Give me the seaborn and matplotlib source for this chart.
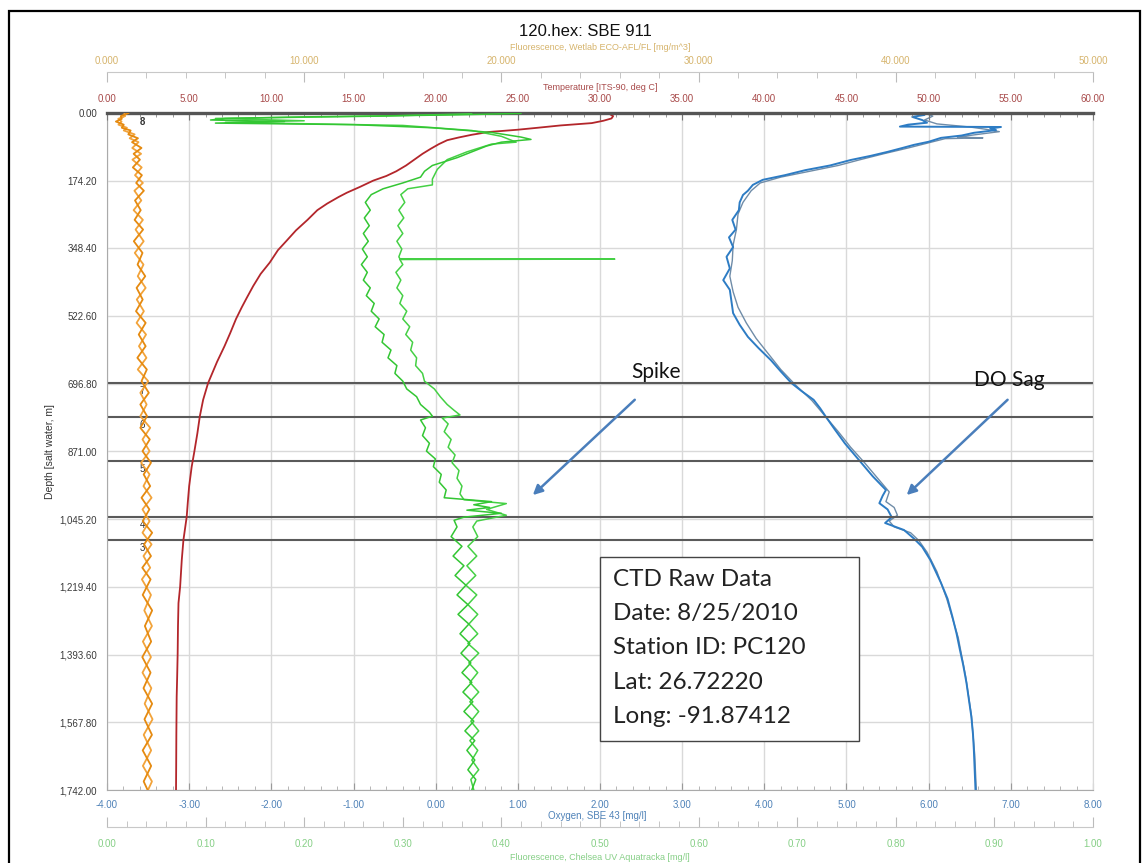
import numpy as np
import pandas as pd
import matplotlib
matplotlib.use("Agg")
import matplotlib.pyplot as plt
import seaborn as sns
from matplotlib.patches import Rectangle
from matplotlib.ticker import FuncFormatter, MultipleLocator

sns.set_style("white")
plt.rcParams['font.family'] = ['Liberation Sans', 'DejaVu Sans']

# ---------------- data ----------------
depth_ticks = [0, 174.2, 348.4, 522.6, 696.8, 871.0, 1045.2, 1219.4, 1393.6, 1567.8, 1742.0]

# Fluorescence, Wetlab ECO-AFL/FL (top outer axis, 0-50)
fl_depth = [0, 8, 15, 22, 30, 38, 45, 55, 65, 75, 90, 105, 120, 140, 160, 180, 200, 225, 250, 275,
            300, 330, 360, 390, 420, 450, 480, 510, 540, 570, 600, 630, 660, 690, 720, 750, 780, 810, 840, 870,
            900, 930, 960, 990, 1020, 1050, 1080, 1110, 1140, 1170, 1200, 1240, 1280, 1320, 1360, 1400, 1440, 1480, 1520, 1560,
            1600, 1640, 1680, 1720, 1742]
fl_down = [1.10, 0.70, 0.75, 0.45, 0.85, 0.75, 1.20, 1.08, 1.57, 1.27,
           1.75, 1.35, 1.67, 1.31, 1.77, 1.48, 1.87, 1.42, 1.71, 1.40,
           1.83, 1.36, 1.80, 1.55, 1.94, 1.50, 1.81, 1.47, 1.96, 1.61,
           1.96, 1.54, 2.02, 1.75, 2.12, 1.69, 2.03, 1.69, 2.17, 1.80,
           2.23, 1.86, 2.19, 1.75, 2.15, 1.81, 2.29, 1.88, 2.23, 1.79,
           2.21, 1.81, 2.29, 1.92, 2.24, 1.79, 2.21, 1.85, 2.29, 1.90,
           2.28, 1.81, 2.24, 1.86, 2.06]
fl_up = [0.88, 0.92, 0.57, 0.74, 0.58, 1.01, 0.85, 1.40, 1.15, 1.60,
         1.28, 1.73, 1.29, 1.76, 1.42, 1.82, 1.39, 1.74, 1.35, 1.82,
         1.45, 1.86, 1.41, 1.85, 1.56, 1.96, 1.51, 1.87, 1.50, 1.98,
         1.62, 2.00, 1.56, 2.09, 1.69, 2.01, 1.69, 2.19, 1.80, 2.16,
         1.73, 2.16, 1.85, 2.26, 1.80, 2.16, 1.80, 2.26, 1.85, 2.19,
         1.77, 2.23, 1.89, 2.28, 1.82, 2.23, 1.80, 2.25, 1.91, 2.31,
         1.86, 2.24, 1.82, 2.28, 2.08]

# Temperature [ITS-90, deg C] (top axis, 0-60)
t_depth = [0, 3, 8, 14, 20, 26, 32, 38, 43, 49, 56, 63, 70, 80, 92, 105, 120, 135, 150, 162,
           174, 190, 205, 216, 233, 250, 275, 302, 330, 353, 385, 414, 445, 476, 500, 530, 566, 600, 640, 695,
           738, 780, 824, 870, 911, 960, 1000, 1039, 1099, 1150, 1219, 1261, 1320, 1390, 1450, 1502, 1600, 1680, 1742]
temperature = [30.3, 30.6, 30.8, 30.7, 30.2, 29.5, 27.6, 26.2, 25.0, 23.2,
               22.2, 21.4, 20.7, 20.2, 19.7, 19.2, 18.7, 18.2, 17.6, 17.0,
               16.2, 15.4, 14.6, 14.1, 13.4, 12.8, 12.2, 11.5, 10.9, 10.4,
               9.9, 9.35, 8.9, 8.5, 8.2, 7.85, 7.5, 7.15, 6.7, 6.15,
               5.85, 5.65, 5.5, 5.32, 5.15, 5.0, 4.92, 4.85, 4.65, 4.55,
               4.45, 4.35, 4.32, 4.3, 4.27, 4.24, 4.22, 4.21, 4.2]

# Oxygen, SBE 43 [mg/l] (bottom axis, -4 to 8)
ox_depth_down = [0, 5, 10, 18, 25, 30, 35, 36, 40, 44, 51, 58, 64, 74, 82, 90, 100, 110, 121, 135,
                 147, 160, 172, 185, 200, 211, 230, 250, 275, 300, 320, 345, 370, 400, 430, 455, 485, 515, 545, 576,
                 605, 636, 665, 695, 715, 738, 760, 782, 815, 850, 875, 900, 935, 970, 985, 1004, 1020, 1040, 1055, 1073,
                 1095, 1116, 1150, 1209, 1250, 1297, 1340, 1381, 1420, 1466, 1510, 1554, 1600, 1639, 1690, 1742]
ox_down = [5.85, 5.95, 5.80, 5.92, 5.98, 5.75, 5.65, 6.88, 6.75, 6.82,
           6.55, 6.40, 6.15, 6.00, 5.82, 5.68, 5.50, 5.30, 5.05, 4.80,
           4.50, 4.25, 3.98, 3.86, 3.80, 3.74, 3.70, 3.69, 3.61, 3.65,
           3.57, 3.62, 3.54, 3.58, 3.50, 3.58, 3.60, 3.62, 3.70, 3.80,
           3.93, 4.08, 4.20, 4.33, 4.45, 4.60, 4.68, 4.75, 4.86, 4.98,
           5.08, 5.18, 5.32, 5.48, 5.44, 5.40, 5.50, 5.55, 5.47, 5.70,
           5.82, 5.92, 6.02, 6.15, 6.23, 6.29, 6.34, 6.38, 6.42, 6.46,
           6.49, 6.52, 6.54, 6.55, 6.56, 6.57]
ox_depth_up = [0, 8, 18, 28, 36, 42, 48, 55, 62, 64, 66, 74, 90, 105, 121, 135, 150, 165, 180, 200,
               230, 260, 300, 340, 380, 420, 460, 500, 540, 580, 620, 660, 700, 740, 780, 820, 860, 900, 940, 975,
               1000, 1015, 1035, 1050, 1065, 1080, 1100, 1130, 1180, 1250, 1350, 1450, 1550, 1650, 1742]
ox_up = [5.95, 6.05, 5.95, 6.10, 6.50, 6.70, 6.86, 6.60, 6.35, 6.66,
         6.20, 6.05, 5.75, 5.45, 5.15, 4.90, 4.55, 4.20, 3.95, 3.84,
         3.74, 3.68, 3.66, 3.62, 3.61, 3.58, 3.62, 3.68, 3.78, 3.90,
         4.05, 4.20, 4.38, 4.58, 4.74, 4.90, 5.05, 5.22, 5.38, 5.52,
         5.48, 5.58, 5.62, 5.52, 5.58, 5.78, 5.88, 5.98, 6.10, 6.22,
         6.36, 6.45, 6.52, 6.56, 6.58]

# Fluorescence, Chelsea UV Aquatracka [mg/l] (bottom outer axis, 0-1): (depth, value)
ch_down_pts = [
    (1, 0.42), (5, 0.35), (10, 0.20), (14, 0.12), (18, 0.105), (22, 0.18), (26, 0.11), (30, 0.25),
    (38, 0.33), (50, 0.39), (62, 0.42), (68, 0.43), (75, 0.40), (85, 0.385), (100, 0.37), (115, 0.355),
    (135, 0.33), (150, 0.322), (165, 0.318), (180, 0.30), (195, 0.28),
    (210, 0.268), (230, 0.262), (250, 0.267), (270, 0.261), (290, 0.266), (310, 0.260), (330, 0.265),
    (350, 0.259), (370, 0.264), (390, 0.258), (410, 0.264), (430, 0.260), (450, 0.267), (470, 0.263),
    (490, 0.271), (510, 0.268), (530, 0.276), (550, 0.272), (570, 0.281), (590, 0.279), (610, 0.288),
    (630, 0.285), (650, 0.294), (670, 0.292), (690, 0.300), (710, 0.304), (730, 0.314), (750, 0.318),
    (770, 0.327), (780, 0.330), (790, 0.318), (810, 0.323), (830, 0.320), (850, 0.327), (870, 0.324),
    (890, 0.333), (910, 0.331), (930, 0.339), (950, 0.337), (970, 0.344), (990, 0.342),
    (1000, 0.39), (1008, 0.372), (1015, 0.388), (1022, 0.365), (1030, 0.40), (1040, 0.362), (1048, 0.352),
    (1065, 0.355), (1090, 0.349), (1115, 0.360), (1140, 0.351), (1165, 0.362), (1190, 0.353), (1215, 0.364),
    (1240, 0.355), (1265, 0.366), (1290, 0.356), (1315, 0.367), (1340, 0.358), (1365, 0.368), (1390, 0.359),
    (1415, 0.369), (1440, 0.360), (1465, 0.370), (1490, 0.361), (1515, 0.371), (1540, 0.362), (1565, 0.372),
    (1590, 0.363), (1615, 0.373), (1640, 0.365), (1665, 0.373), (1690, 0.366), (1715, 0.374), (1742, 0.370)]
ch_up_pts = [
    (2, 0.37), (8, 0.28), (14, 0.11), (20, 0.20), (24, 0.12), (32, 0.30), (45, 0.37), (60, 0.40),
    (75, 0.415), (80, 0.39), (100, 0.365), (120, 0.345), (145, 0.335), (170, 0.33), (185, 0.33), (195, 0.305),
    (210, 0.298), (230, 0.302), (250, 0.296), (270, 0.301), (290, 0.295), (310, 0.300), (330, 0.294),
    (350, 0.299), (370, 0.296), (375, 0.297), (376, 0.515), (377, 0.297), (390, 0.300), (410, 0.293),
    (430, 0.298), (450, 0.294), (470, 0.300), (490, 0.297), (510, 0.304), (530, 0.300), (550, 0.307),
    (570, 0.303), (590, 0.310), (610, 0.308), (630, 0.314), (650, 0.313), (670, 0.320), (690, 0.322),
    (710, 0.332), (730, 0.338), (750, 0.345), (765, 0.352), (777, 0.358), (785, 0.340), (800, 0.346),
    (820, 0.342), (840, 0.349), (860, 0.346), (880, 0.353), (900, 0.350), (920, 0.357), (940, 0.355),
    (960, 0.360), (980, 0.358), (995, 0.362),
    (1005, 0.405), (1020, 0.385), (1035, 0.405), (1050, 0.375), (1065, 0.371),
    (1090, 0.376), (1115, 0.366), (1140, 0.375), (1165, 0.365), (1190, 0.374), (1215, 0.364), (1240, 0.375),
    (1265, 0.366), (1290, 0.376), (1315, 0.367), (1340, 0.376), (1365, 0.366), (1390, 0.377), (1415, 0.367),
    (1440, 0.376), (1465, 0.368), (1490, 0.377), (1515, 0.368), (1540, 0.377), (1565, 0.369), (1590, 0.377),
    (1615, 0.368), (1640, 0.376), (1665, 0.370), (1690, 0.377), (1715, 0.369), (1742, 0.372)]

# Bottle fire markers
bottle_depths = [695, 782, 895, 1039, 1099]
bottle_labels = ["7", "6", "5", "4", "3"]
top_bottle_label = "8"

info_lines = ["CTD Raw Data", "Date: 8/25/2010", "Station ID: PC120", "Lat: 26.72220", "Long: -91.87412"]

ch_down_df = pd.DataFrame(ch_down_pts, columns=["depth", "value"])
ch_up_df = pd.DataFrame(ch_up_pts, columns=["depth", "value"])

# ---------------- figure ----------------
W, H = 1144, 863
fig = plt.figure(figsize=(W / 100, H / 100), dpi=100)
fig.patch.set_facecolor('white')
ax = fig.add_axes([107 / W, 1 - 790 / H, 986 / W, 677 / H])
ax_t = ax.twiny()
ax_f = ax.twiny()
ax_c = ax.twiny()

ox_col = '#4f82b8'
t_col = '#a84a4a'
f_col = '#d6b46c'
c_col = '#86cf86'

# oxygen (main axes)
sns.lineplot(x=ox_up, y=ox_depth_up, sort=False, estimator=None, ax=ax, color='#6f8ca8', linewidth=1.0)
sns.lineplot(x=ox_down, y=ox_depth_down, sort=False, estimator=None, ax=ax, color='#2d7cc4', linewidth=1.4)
# temperature
sns.lineplot(x=temperature, y=t_depth, sort=False, estimator=None, ax=ax_t, color='#b3262b', linewidth=1.3)
# wetlab fluorescence
sns.lineplot(x=fl_up, y=fl_depth, sort=False, estimator=None, ax=ax_f, color='#f2a33a', linewidth=1.3)
sns.lineplot(x=fl_down, y=fl_depth, sort=False, estimator=None, ax=ax_f, color='#e58a10', linewidth=1.3)
# chelsea fluorescence
sns.lineplot(data=ch_up_df, x="value", y="depth", sort=False, estimator=None, ax=ax_c,
             color='#45d045', linewidth=1.1)
sns.lineplot(data=ch_down_df, x="value", y="depth", sort=False, estimator=None, ax=ax_c,
             color='#33c633', linewidth=1.1)

for a in (ax, ax_t, ax_f, ax_c):
    a.set_xlabel("")
    a.set_ylabel("")

# limits
ax.set_xlim(-4, 8)
ax_t.set_xlim(0, 60)
ax_f.set_xlim(0, 50)
ax_c.set_xlim(0, 1.0)
ax.set_ylim(1742, 0)

# grid
ax.set_yticks(depth_ticks)
ax.xaxis.set_major_locator(MultipleLocator(1))
ax.xaxis.set_minor_locator(MultipleLocator(0.2))
ax.yaxis.set_minor_locator(MultipleLocator(34.84))
ax.grid(True, which='major', color='#d9d9d9', linewidth=1.0)
ax.set_axisbelow(True)
for a in (ax_t, ax_f, ax_c):
    a.grid(False)

ax.xaxis.set_major_formatter(FuncFormatter(lambda v, p: f"{v:.2f}"))
ax.yaxis.set_major_formatter(FuncFormatter(lambda v, p: f"{v:,.2f}"))
ax.tick_params(axis='x', which='major', direction='in', length=5, color='#999999',
               labelsize=7, labelcolor=ox_col, pad=7)
ax.tick_params(axis='x', which='minor', direction='in', length=3, color='#aaaaaa')
ax.tick_params(axis='y', which='major', direction='out', length=3, color='#999999',
               labelsize=7, labelcolor='#3a3a3a', pad=4)
ax.tick_params(axis='y', which='minor', direction='in', length=3, color='#bbbbbb')
ax.spines['top'].set_visible(False)
ax.spines['left'].set_color('#aaaaaa')
ax.spines['bottom'].set_color('#aaaaaa')
ax.spines['right'].set_color('#d9d9d9')

# temperature axis
ax_t.xaxis.set_major_locator(MultipleLocator(5))
ax_t.xaxis.set_minor_locator(MultipleLocator(1))
ax_t.xaxis.set_major_formatter(FuncFormatter(lambda v, p: f"{v:.2f}"))
ax_t.tick_params(axis='x', which='major', direction='in', length=5, color='#777777',
                 labelsize=7, labelcolor=t_col, pad=6.5)
ax_t.tick_params(axis='x', which='minor', direction='in', length=3, color='#888888')
for s in ('left', 'right', 'bottom'):
    ax_t.spines[s].set_visible(False)
ax_t.spines['top'].set_color('#555555')
ax_t.spines['top'].set_linewidth(2.4)

# wetlab fluorescence axis
ax_f.spines['top'].set_position(('outward', 29.5))
ax_f.xaxis.set_major_locator(MultipleLocator(10))
ax_f.xaxis.set_minor_locator(MultipleLocator(2))
ax_f.xaxis.set_major_formatter(FuncFormatter(lambda v, p: f"{v:.3f}"))
ax_f.tick_params(axis='x', which='major', direction='in', length=7, color='#bbbbbb',
                 labelsize=7, labelcolor=f_col, pad=4)
ax_f.tick_params(axis='x', which='minor', direction='in', length=4, color='#bbbbbb')
for s in ('left', 'right', 'bottom'):
    ax_f.spines[s].set_visible(False)
ax_f.spines['top'].set_color('#c8c8c8')

# chelsea fluorescence axis
ax_c.xaxis.set_ticks_position('bottom')
ax_c.xaxis.set_label_position('bottom')
ax_c.spines['bottom'].set_position(('outward', 26.6))
ax_c.xaxis.set_major_locator(MultipleLocator(0.1))
ax_c.xaxis.set_minor_locator(MultipleLocator(0.02))
ax_c.xaxis.set_major_formatter(FuncFormatter(lambda v, p: f"{v:.2f}"))
ax_c.tick_params(axis='x', which='major', direction='in', length=7, color='#bbbbbb',
                 labelsize=7, labelcolor=c_col, pad=8.5)
ax_c.tick_params(axis='x', which='minor', direction='in', length=4, color='#bbbbbb')
for s in ('left', 'right', 'top'):
    ax_c.spines[s].set_visible(False)
ax_c.spines['bottom'].set_color('#c8c8c8')

# bottle lines
for d, lab in zip(bottle_depths, bottle_labels):
    ax.axhline(d, color='#5a5a5a', linewidth=1.5, zorder=2)
    ax.annotate(lab, xy=(-3.574, d), xytext=(0, -2), textcoords='offset points',
                ha='center', va='top', fontsize=7, color='#333333')
ax.annotate(top_bottle_label, xy=(-3.574, 0), xytext=(0, -3), textcoords='offset points',
            ha='center', va='top', fontsize=7, color='#333333', fontweight='bold')

# figure texts
def ftext(x, y, s, **kw):
    fig.text(x / W, 1 - y / H, s, ha='center', va='center', **kw)

ftext(585, 32, "120.hex: SBE 911", fontsize=12, color='#111111')
ftext(600, 48, "Fluorescence, Wetlab ECO-AFL/FL [mg/m^3]", fontsize=6.5, color=f_col)
ftext(600, 87, "Temperature [ITS-90, deg C]", fontsize=6.5, color=t_col)
ftext(597, 816, "Oxygen, SBE 43 [mg/l]", fontsize=7, color=ox_col)
ftext(600, 857, "Fluorescence, Chelsea UV Aquatracka [mg/l]", fontsize=6.5, color=c_col)
ftext(50, 451, "Depth [salt water, m]", fontsize=7.5, color='#333333', rotation=90)

# info box and annotations (drawn on the top-most axes, in oxygen/depth coordinates)
box = Rectangle((2.0, 1142), 3.148, 474, transform=ax.transData, facecolor='white',
                edgecolor='#444444', linewidth=1.0, clip_on=False, zorder=5)
ax_c.add_patch(box)
info_depths = [1201, 1287, 1376, 1466, 1554]
for s, d in zip(info_lines, info_depths):
    ax_c.text(2.156, d, s, transform=ax.transData, ha='left', va='center',
              fontsize=17.5, family=['Lato', 'DejaVu Sans'], color='#222222', zorder=6)

arrow_kw = dict(arrowstyle='-|>', color='#4a7ebb', lw=1.8, mutation_scale=14)
ax_c.annotate("", xy=(1.158, 988), xytext=(2.448, 733), xycoords=ax.transData,
              textcoords=ax.transData, arrowprops=arrow_kw, zorder=6)
ax_c.annotate("", xy=(5.708, 988), xytext=(6.985, 733), xycoords=ax.transData,
              textcoords=ax.transData, arrowprops=arrow_kw, zorder=6)
ax_c.text(2.679, 666, "Spike", transform=ax.transData, ha='center', va='center',
          fontsize=15, family=['Lato', 'DejaVu Sans'], color='#111111')
ax_c.text(6.985, 687, "DO Sag", transform=ax.transData, ha='center', va='center',
          fontsize=15, family=['Lato', 'DejaVu Sans'], color='#111111')

ax_c.set_xlim(0, 1.0)

# outer frame
fig.add_artist(Rectangle((9 / W, -0.02), (1140 - 9) / W, (H - 11) / H + 0.02,
                         transform=fig.transFigure, fill=False, edgecolor='black', linewidth=1.6))

fig.savefig("out.png", dpi=100)
